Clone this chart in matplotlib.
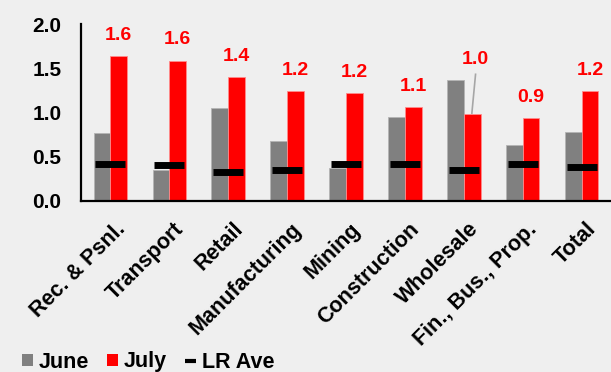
import matplotlib
matplotlib.use("Agg")
import matplotlib.pyplot as plt
import matplotlib.transforms as mtransforms
from matplotlib.lines import Line2D
from matplotlib.patches import Patch
import numpy as np

plt.rcParams['font.family'] = ['Liberation Sans', 'DejaVu Sans']
plt.rcParams['font.weight'] = 'bold'

categories = ["Rec. & Psnl.", "Transport", "Retail", "Manufacturing", "Mining",
              "Construction", "Wholesale", "Fin., Bus., Prop.", "Total"]
june = [0.76, 0.34, 1.05, 0.67, 0.37, 0.95, 1.36, 0.63, 0.78]
july = [1.64, 1.585, 1.40, 1.24, 1.22, 1.06, 0.98, 0.93, 1.24]
lr_ave = [0.415, 0.40, 0.32, 0.35, 0.41, 0.41, 0.35, 0.415, 0.38]
yticks = [0.0, 0.5, 1.0, 1.5, 2.0]

bg = "#efefef"
grey = "#808080"
red = "#ff0000"

fig = plt.figure(figsize=(6.11, 3.72), dpi=100, facecolor=bg)
ax = fig.add_axes([81 / 611, 1 - 200.5 / 372, 1 - 81 / 611, (200.5 - 24) / 372])
ax.set_facecolor(bg)

x = np.arange(len(categories))
w = 0.285
ax.bar(x - w / 2, june, width=w, color=grey, edgecolor="#b4b4b4", linewidth=0.6)
ax.bar(x + w / 2, july, width=w, color=red, edgecolor="#ff8c8c", linewidth=0.6)
for xi, v in zip(x, lr_ave):
    ax.plot([xi - 0.255, xi + 0.255], [v, v], color="black", linewidth=5,
            solid_capstyle="butt", zorder=3)

# July value labels above the red bars; Wholesale gets a leader line
for i, v in enumerate(july):
    if categories[i] == "Wholesale":
        ax.plot([x[i] + 0.20, x[i] + w / 2 - 0.005], [1.43, v + 0.01],
                color="#a6a6a6", linewidth=1.2, zorder=2)
        ax.text(x[i] + 0.19, 1.6, f"{v:.1f}", color=red, fontsize=14,
                fontweight="bold", ha="center", va="center")
    else:
        ax.text(x[i] + w / 2, v + 0.235, f"{v:.1f}", color=red, fontsize=14,
                fontweight="bold", ha="center", va="center")

ax.set_xlim(-0.5, len(categories) - 0.5)
ax.set_ylim(0, 2.0)
ax.set_yticks(yticks)
ax.set_yticklabels([f"{t:.1f}" for t in yticks], fontsize=15, fontweight="bold")
ax.set_xticks(x)
ax.set_xticklabels(categories, rotation=45, ha="right", va="top",
                   rotation_mode="anchor", fontsize=15.5, fontweight="bold")
ax.tick_params(axis="both", length=0)
ax.tick_params(axis="y", pad=14)
ax.tick_params(axis="x", pad=13)
shift = mtransforms.ScaledTranslation(4 / 100, 0, fig.dpi_scale_trans)
for lab in ax.get_xticklabels():
    lab.set_transform(lab.get_transform() + shift)

for s in ["top", "right"]:
    ax.spines[s].set_visible(False)
for s in ["left", "bottom"]:
    ax.spines[s].set_linewidth(1.6)
    ax.spines[s].set_color("black")

handles = [Patch(facecolor=grey, edgecolor="none", label="June"),
           Patch(facecolor=red, edgecolor="none", label="July"),
           Line2D([0], [0], color="black", linewidth=3, solid_capstyle="butt",
                  label="LR Ave")]
fig.legend(handles=handles, loc="center left", bbox_to_anchor=(22 / 611, 1 - 362 / 372),
           ncol=3, frameon=False, handlelength=0.52, handleheight=0.52,
           handletextpad=0.25, columnspacing=0.85, borderpad=0, borderaxespad=0,
           prop={"weight": "bold", "size": 15.5})

fig.savefig("out.png", dpi=100, facecolor=bg)
